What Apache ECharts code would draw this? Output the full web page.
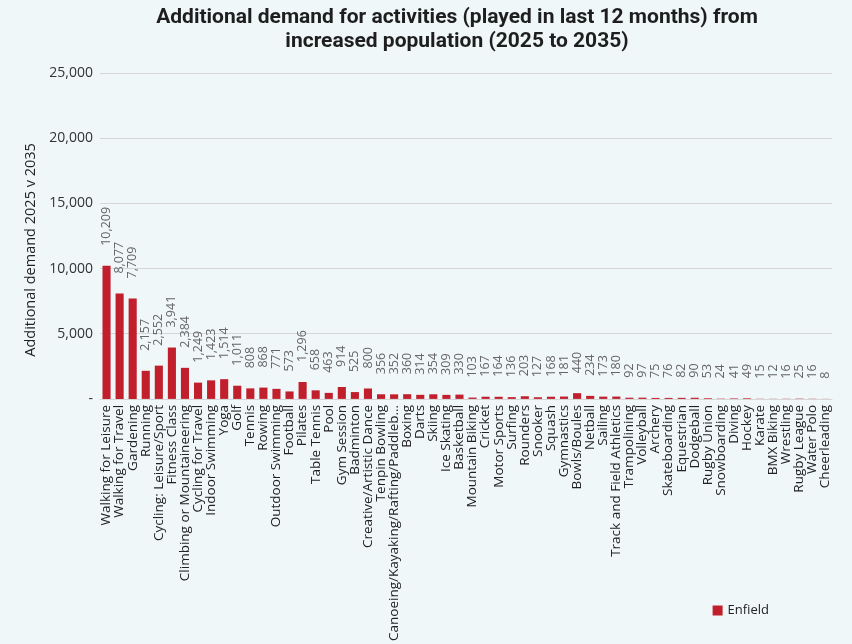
<!DOCTYPE html>
<html>
<head>
<meta charset="utf-8">
<script src="https://cdn.jsdelivr.net/npm/echarts@6/dist/echarts.min.js"></script>
<style>
  html, body { margin: 0; padding: 0; background: #eff7f9; }
  #chart { width: 852px; height: 644px; }
</style>
</head>
<body>
<div id="chart"></div>
<script>
var activities = [
  'Walking for Leisure', 'Walking for Travel', 'Gardening', 'Running', 'Cycling: Leisure/Sport',
  'Fitness Class', 'Climbing or Mountaineering', 'Cycling for Travel', 'Indoor Swimming', 'Yoga',
  'Golf', 'Tennis', 'Rowing', 'Outdoor Swimming', 'Football', 'Pilates', 'Table Tennis', 'Pool',
  'Gym Session', 'Badminton', 'Creative/Artistic Dance', 'Tenpin Bowling',
  'Canoeing/Kayaking/Rafting/Paddleb\u2026', 'Boxing', 'Darts', 'Skiing', 'Ice Skating', 'Basketball',
  'Mountain Biking', 'Cricket', 'Motor Sports', 'Surfing', 'Rounders', 'Snooker', 'Squash',
  'Gymnastics', 'Bowls/Boules', 'Netball', 'Sailing', 'Track and Field Athletics', 'Trampolining',
  'Volleyball', 'Archery', 'Skateboarding', 'Equestrian', 'Dodgeball', 'Rugby Union', 'Snowboarding',
  'Diving', 'Hockey', 'Karate', 'BMX Biking', 'Wrestling', 'Rugby League', 'Water Polo', 'Cheerleading'
];

var enfield = [
  10209, 8077, 7709, 2157, 2552, 3941, 2384, 1249, 1423, 1514,
  1011, 808, 868, 771, 573, 1296, 658, 463, 914, 525, 800, 356,
  352, 360, 314, 354, 309, 330, 103, 167, 164, 136, 203, 127, 168,
  181, 440, 234, 173, 180, 92, 97, 75, 76, 82, 90, 53, 24,
  41, 49, 15, 12, 16, 25, 16, 8
];

var yTicks = [0, 5000, 10000, 15000, 20000, 25000];

var chart = echarts.init(document.getElementById('chart'));

var fmt = function (v) {
  if (v === 0) return '-';
  return v.toLocaleString('en-GB');
};

var option = {
  backgroundColor: '#eff7f9',
  textStyle: { fontFamily: 'Open Sans' },
  title: {
    text: 'Additional demand for activities (played in last 12 months) from\nincreased population (2025 to 2035)',
    left: 452,
    textAlign: 'center',
    top: 1,
    textStyle: {
      fontFamily: 'Roboto',
      fontSize: 21,
      fontWeight: 'bold',
      color: '#1e1e1e',
      lineHeight: 24
    }
  },
  legend: {
    data: ['Enfield'],
    right: 78,
    bottom: 22,
    icon: 'rect',
    itemWidth: 10,
    itemHeight: 10,
    itemGap: 4,
    textStyle: { fontSize: 13, color: '#222', fontFamily: 'Open Sans' }
  },
  grid: {
    left: 100,
    right: 20,
    top: 73,
    bottom: 244
  },
  xAxis: {
    type: 'category',
    data: activities,
    axisTick: { show: false },
    axisLine: { lineStyle: { color: '#d6d6d6' } },
    axisLabel: {
      rotate: 90,
      interval: 0,
      fontSize: 13.5,
      color: '#222',
      margin: 6
    }
  },
  yAxis: {
    type: 'value',
    min: yTicks[0],
    max: yTicks[yTicks.length - 1],
    interval: 5000,
    name: 'Additional demand 2025 v 2035',
    nameLocation: 'middle',
    nameGap: 60,
    nameTextStyle: { fontSize: 14.5, color: '#222', padding: [0, 0, 0, -28] },
    axisLine: { show: false },
    axisTick: { show: false },
    splitLine: { lineStyle: { color: '#d6d6d6', width: 1 } },
    axisLabel: {
      fontSize: 14,
      color: '#333',
      margin: 7,
      formatter: fmt
    }
  },
  series: [
    {
      name: 'Enfield',
      type: 'bar',
      data: enfield,
      barCategoryGap: '38%',
      itemStyle: { color: '#c11f2b' },
      label: {
        show: true,
        position: 'top',
        rotate: 90,
        align: 'left',
        verticalAlign: 'middle',
        distance: 20,
        fontSize: 12.5,
        color: '#666',
        formatter: function (p) { return fmt(p.value); }
      }
    }
  ]
};

chart.setOption(option);
</script>
</body>
</html>
